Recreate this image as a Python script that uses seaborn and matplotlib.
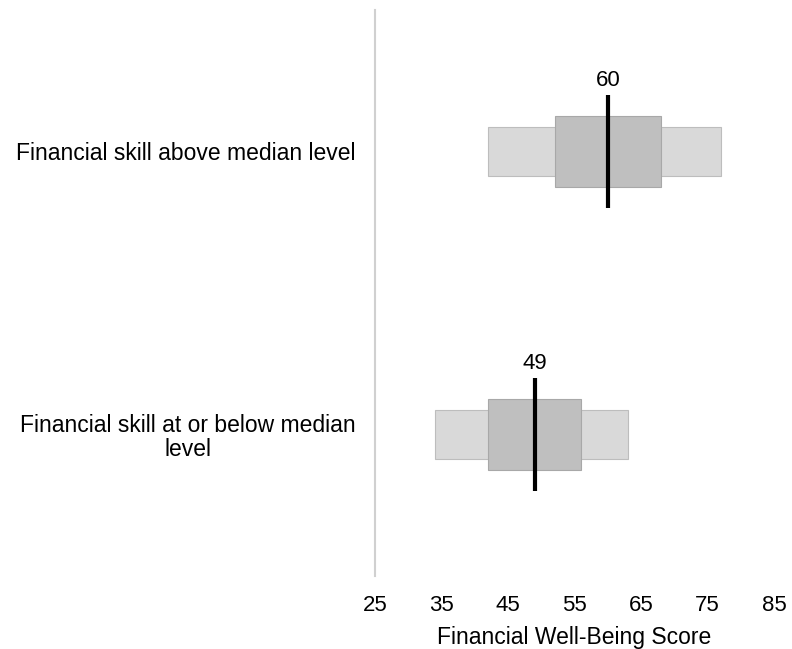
import pandas as pd
import numpy as np
import seaborn as sns
import matplotlib as mpl
mpl.use("Agg")
import matplotlib.pyplot as plt

# data
groups = ["Financial skill above median level",
          "Financial skill at or below median\nlevel"]
p10 = [42, 34]
p25 = [52, 42]
median = [60, 49]
p75 = [68, 56]
p90 = [77, 63]
xticks = [25, 35, 45, 55, 65, 75, 85]

df = pd.DataFrame({"group": groups, "p10": p10, "p25": p25,
                   "median": median, "p75": p75, "p90": p90})
df["outer"] = df["p90"] - df["p10"]
df["inner"] = df["p75"] - df["p25"]

sns.set_style("white")
plt.rcParams["font.family"] = ["Liberation Sans", "DejaVu Sans"]
plt.rcParams["text.color"] = "black"
plt.rcParams["xtick.color"] = "black"
plt.rcParams["ytick.color"] = "black"
plt.rcParams["axes.labelcolor"] = "black"

fig = plt.figure(figsize=(7.92, 6.49), dpi=100)
ax = fig.add_axes([0.4735, 0.1125, 0.5038, 0.8721])

# 10th-90th percentile band
sns.barplot(data=df, y="group", x="outer", left=df["p10"], order=groups,
            width=0.17, color="#d9d9d9", edgecolor="#bdbdbd", linewidth=0.8,
            saturation=1, ax=ax)
# 25th-75th percentile band
sns.barplot(data=df, y="group", x="inner", left=df["p25"], order=groups,
            width=0.25, color="#bfbfbf", edgecolor="#a8a8a8", linewidth=0.8,
            saturation=1, ax=ax)

# median lines and labels
pos = np.arange(len(groups))
ax.vlines(df["median"], pos - 0.2, pos + 0.2, color="black", linewidth=3)
for y, m in zip(pos, df["median"]):
    ax.text(m, y - 0.212, str(m), ha="center", va="bottom", fontsize=16)

ax.set_xlim(25, 85)
ax.set_ylim(1.5, -0.5)
ax.set_xticks(xticks)
ax.set_xlabel("Financial Well-Being Score", fontsize=16.5, labelpad=7)
ax.set_ylabel("")
ax.tick_params(axis="x", length=0, labelsize=16, pad=14)
ax.tick_params(axis="y", length=0, labelsize=16.5, pad=14)
for lab in ax.get_yticklabels():
    lab.set_multialignment("center")
    lab.set_linespacing(1.05)

for s in ["top", "right", "bottom"]:
    ax.spines[s].set_visible(False)
ax.spines["left"].set_color("#d0d0d0")
ax.spines["left"].set_linewidth(1.5)

plt.savefig("out.png", dpi=100)
